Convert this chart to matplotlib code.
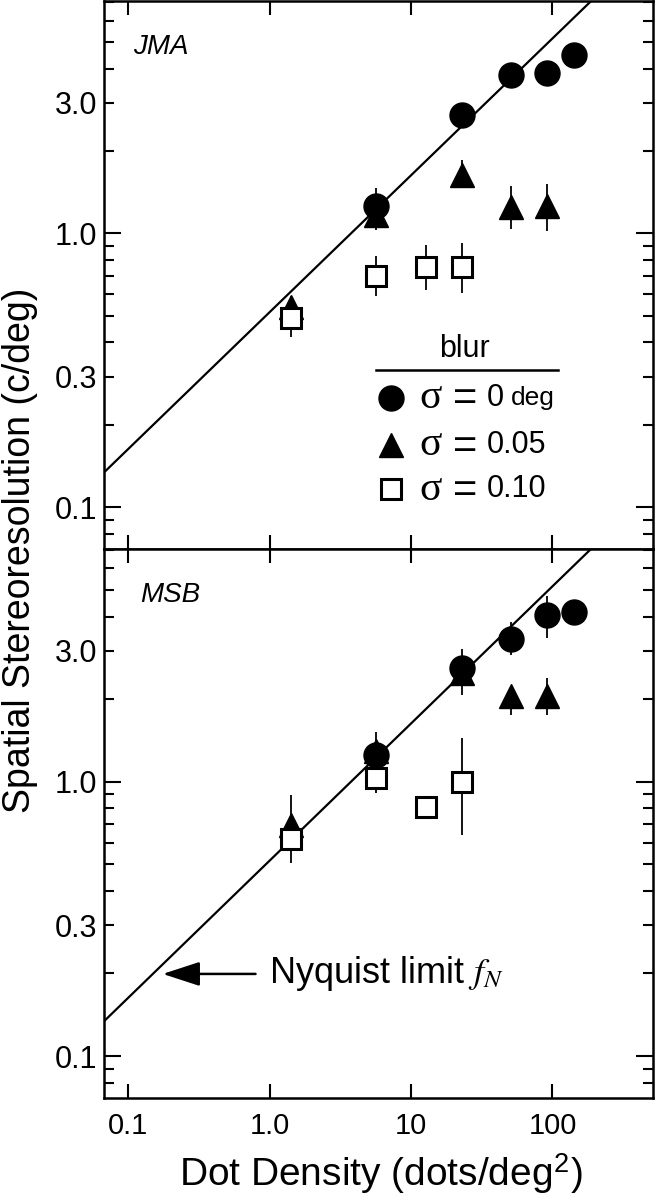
import matplotlib
matplotlib.use('Agg')
import matplotlib.pyplot as plt
from matplotlib.ticker import FixedLocator, NullLocator, FuncFormatter, FixedFormatter

plt.rcParams['font.family'] = ['Liberation Sans', 'DejaVu Sans']
plt.rcParams['mathtext.fontset'] = 'stix'

# ---------------- data ----------------
# JMA (top panel)
jma_c_x = [5.69, 22.8, 51.2, 91.0, 142.0]
jma_c_y = [1.26, 2.72, 3.78, 3.87, 4.50]
jma_c_lo = [0.20, 0.15, 0.20, 0.20, 0.20]
jma_c_hi = [0.20, 0.15, 0.20, 0.20, 0.20]

jma_t_x = [1.42, 5.69, 22.8, 51.2, 91.0]
jma_t_y = [0.54, 1.17, 1.64, 1.25, 1.26]
jma_t_lo = [0.05, 0.14, 0.17, 0.21, 0.24]
jma_t_hi = [0.05, 0.14, 0.22, 0.24, 0.26]

jma_s_x = [1.42, 5.69, 12.8, 22.8]
jma_s_y = [0.49, 0.70, 0.753, 0.755]
jma_s_lo = [0.07, 0.11, 0.13, 0.15]
jma_s_hi = [0.07, 0.13, 0.155, 0.167]

# MSB (bottom panel)
msb_c_x = [5.69, 22.8, 51.2, 91.0, 142.0]
msb_c_y = [1.256, 2.60, 3.33, 4.06, 4.15]
msb_c_lo = [0.10, 0.20, 0.44, 0.72, 0.20]
msb_c_hi = [0.10, 0.45, 0.48, 0.69, 0.20]

msb_t_x = [1.42, 5.69, 22.8, 51.2, 91.0]
msb_t_y = [0.695, 1.30, 2.49, 2.05, 2.06]
msb_t_lo = [0.10, 0.10, 0.41, 0.30, 0.31]
msb_t_hi = [0.20, 0.22, 0.20, 0.15, 0.34]

msb_s_x = [1.42, 5.69, 12.8, 22.8]
msb_s_y = [0.617, 1.03, 0.809, 1.00]
msb_s_lo = [0.113, 0.12, 0.03, 0.36]
msb_s_hi = [0.05, 0.05, 0.03, 0.44]

# Nyquist limit line (end points)
nyq_x = [0.05, 300.0]
nyq_y = [0.1154, 8.94]

x_ticks = [0.1, 1.0, 10.0, 100.0]
x_labels = ['0.1', '1.0', '10', '100']
y_major = [0.1, 1.0]
y_labels = {0.1: '0.1', 0.3: '0.3', 1.0: '1.0', 3.0: '3.0'}

legend_labels = ['0', '0.05', '0.10']

# ---------------- figure ----------------
fig = plt.figure(figsize=(6.56, 12.0), dpi=100)
L, R = 104 / 656, 653 / 656
ax1 = fig.add_axes([L, 0.5425, R - L, 0.999 - 0.5425])
ax2 = fig.add_axes([L, 0.085, R - L, 0.5425 - 0.085])

minor_vals = []
for dec in [0.01, 0.1, 1.0]:
    for s in range(2, 10):
        minor_vals.append(round(s * dec, 6))


def minor_fmt(v, pos):
    for k, lab in y_labels.items():
        if abs(v - k) < 1e-6 and k in (0.3, 3.0):
            return lab
    return ''


def style(ax):
    ax.set_xscale('log')
    ax.set_yscale('log')
    ax.set_xlim(0.0673, 514)
    ax.set_ylim(0.0703, 7.06)
    ax.xaxis.set_major_locator(FixedLocator(x_ticks))
    ax.xaxis.set_major_formatter(FixedFormatter(x_labels))
    ax.xaxis.set_minor_locator(NullLocator())
    ax.yaxis.set_major_locator(FixedLocator(y_major))
    ax.yaxis.set_major_formatter(FuncFormatter(lambda v, p: y_labels.get(round(v, 6), '')))
    ax.yaxis.set_minor_locator(FixedLocator(minor_vals))
    ax.yaxis.set_minor_formatter(FuncFormatter(minor_fmt))
    ax.tick_params(which='both', direction='in', top=True, right=True,
                   width=1.5, pad=5)
    ax.tick_params(axis='y', which='both', labelsize=22)
    ax.tick_params(which='major', length=12)
    ax.tick_params(which='minor', length=7)
    ax.tick_params(axis='x', which='major', length=10, pad=10, labelsize=21)
    for sp in ax.spines.values():
        sp.set_linewidth(1.8)


def draw(ax, cx, cy, clo, chi, tx, ty, tlo, thi, sx, sy, slo, shi):
    ax.plot(nyq_x, nyq_y, color='black', lw=1.6, zorder=2)
    ax.errorbar(tx, ty, yerr=[tlo, thi], fmt='^', ms=17, mfc='black', mec='black',
                ecolor='black', elinewidth=1.3, capsize=0, zorder=3)
    ax.errorbar(sx, sy, yerr=[slo, shi], fmt='s', ms=14, mfc='white', mec='black',
                mew=2.2, ecolor='black', elinewidth=1.3, capsize=0, zorder=4)
    ax.errorbar(cx, cy, yerr=[clo, chi], fmt='o', ms=18, mfc='black', mec='black',
                ecolor='black', elinewidth=1.3, capsize=0, zorder=5)


style(ax1)
style(ax2)
ax1.tick_params(axis='x', labelbottom=False)

draw(ax1, jma_c_x, jma_c_y, jma_c_lo, jma_c_hi, jma_t_x, jma_t_y, jma_t_lo, jma_t_hi,
     jma_s_x, jma_s_y, jma_s_lo, jma_s_hi)
draw(ax2, msb_c_x, msb_c_y, msb_c_lo, msb_c_hi, msb_t_x, msb_t_y, msb_t_lo, msb_t_hi,
     msb_s_x, msb_s_y, msb_s_lo, msb_s_hi)

ax1.text(0.053, 0.916, 'JMA', transform=ax1.transAxes, style='italic',
         fontsize=20, ha='left', va='center')
ax2.text(0.065, 0.9155, 'MSB', transform=ax2.transAxes, style='italic',
         fontsize=20, ha='left', va='center')

# legend (manual)
ax1.text(0.656, 0.366, 'blur', transform=ax1.transAxes, fontsize=22,
         ha='center', va='center')
ax1.plot([0.495, 0.827], [0.326, 0.326], transform=ax1.transAxes, color='black',
         lw=1.8, clip_on=False)
leg_y = [0.276, 0.19, 0.109]
leg_m = [dict(marker='o', ms=18, mfc='black', mec='black'),
         dict(marker='^', ms=17, mfc='black', mec='black'),
         dict(marker='s', ms=14, mfc='white', mec='black', mew=2.2)]
for yy, mk, lab in zip(leg_y, leg_m, legend_labels):
    ax1.plot([0.522], [yy], transform=ax1.transAxes, ls='none', **mk)
    ax1.text(0.574, yy, 'σ', transform=ax1.transAxes, fontsize=30,
             family=['Liberation Serif', 'DejaVu Serif'], ha='left', va='center')
    ax1.text(0.658, yy - 0.003, '=', transform=ax1.transAxes, fontsize=30,
             ha='center', va='center')
    ax1.text(0.697, yy, lab, transform=ax1.transAxes, fontsize=22,
             ha='left', va='center')
ax1.text(0.742, leg_y[0], 'deg', transform=ax1.transAxes, fontsize=19,
         ha='left', va='center')

# Nyquist annotation
ax2.annotate('', xy=(0.107, 0.226), xytext=(0.276, 0.226), xycoords='axes fraction',
             textcoords='axes fraction',
             arrowprops=dict(arrowstyle='-|>,head_length=2.3,head_width=0.75',
                             color='black', lw=1.8, shrinkA=0, shrinkB=0))
ax2.text(0.300, 0.226, r'Nyquist limit $f_N$', transform=ax2.transAxes,
         fontsize=26, ha='left', va='center')

fig.text(0.030, 0.541, 'Spatial Stereoresolution (c/deg)', rotation=90,
         fontsize=27, ha='center', va='center')
fig.text(0.58, 0.022, r'Dot Density (dots/deg$^\mathregular{2}$)', fontsize=28,
         ha='center', va='center')

fig.savefig('out.png', dpi=100)
